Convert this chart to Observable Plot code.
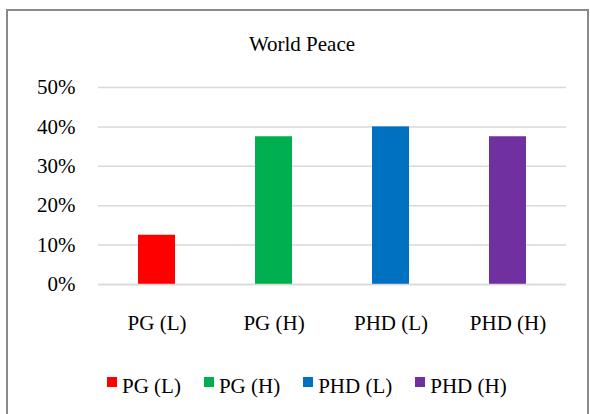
<!DOCTYPE html>
<html>
<head>
<meta charset="utf-8">
<script src="https://cdn.jsdelivr.net/npm/d3@7"></script>
<script src="https://cdn.jsdelivr.net/npm/@observablehq/plot@0.6"></script>
<style>
  html, body { margin: 0; padding: 0; background: #fff; width: 590px; height: 414px; overflow: hidden; }
  body { position: relative; font-family: "Liberation Serif", "Times New Roman", serif; }
  #frame { position: absolute; left: 6px; top: 9px; width: 583px; height: 420px; border: 2px solid #8a8a8a; box-sizing: border-box; }
  #title { position: absolute; left: 0; width: 604px; top: 32px; text-align: center; font-size: 21px; line-height: normal; color: #000; }
  #chart { position: absolute; left: 0; top: 0; }
  #legend { position: absolute; top: 374px; left: 107px; display: flex; align-items: flex-start; font-size: 21px; line-height: normal; color: #000; }
  .item { display: flex; align-items: flex-start; margin-right: 23px; }
  .sw { width: 10px; height: 10px; margin-right: 5px; margin-top: 3px; }
</style>
</head>
<body>
<div id="frame"></div>
<div id="title">World Peace</div>
<div id="chart"></div>
<div id="legend"></div>
<script>
const categories = ["PG (L)", "PG (H)", "PHD (L)", "PHD (H)"];
const values = [0.125, 0.375, 0.40, 0.375];
const colors = ["#FF0000", "#00B050", "#0070C0", "#7030A0"];
const yTicks = [0, 0.1, 0.2, 0.3, 0.4, 0.5];

const data = categories.map((c, i) => ({category: c, value: values[i]}));

const chart = Plot.plot({
  width: 590,
  height: 345,
  marginLeft: 98,
  marginRight: 24,
  marginTop: 87,
  marginBottom: 61,
  style: {fontFamily: "'Liberation Serif', 'Times New Roman', serif", fontSize: "21px", background: "transparent", color: "#000"},
  x: {domain: categories, paddingInner: 0.68, paddingOuter: 0.34, label: null},
  y: {domain: [0, 0.5], label: null},
  color: {domain: categories, range: colors},
  marks: [
    Plot.gridY(yTicks, {stroke: "#d9d9d9", strokeOpacity: 1, strokeWidth: 1.5}),
    Plot.barY(data, {x: "category", y: "value", fill: "category"}),
    Plot.ruleY([0], {stroke: "#d9d9d9", strokeWidth: 1.5}),
    Plot.axisY({ticks: yTicks, tickFormat: d3.format(".0%"), tickSize: 0, tickPadding: 23, fontSize: 21, label: null}),
    Plot.axisX({tickSize: 0, tickPadding: 31, fontSize: 21, label: null})
  ]
});
document.getElementById("chart").appendChild(chart);

const legend = document.getElementById("legend");
categories.forEach((c, i) => {
  const item = document.createElement("div");
  item.className = "item";
  const sw = document.createElement("div");
  sw.className = "sw";
  sw.style.background = colors[i];
  const t = document.createElement("span");
  t.textContent = c;
  item.appendChild(sw);
  item.appendChild(t);
  legend.appendChild(item);
});
</script>
</body>
</html>
